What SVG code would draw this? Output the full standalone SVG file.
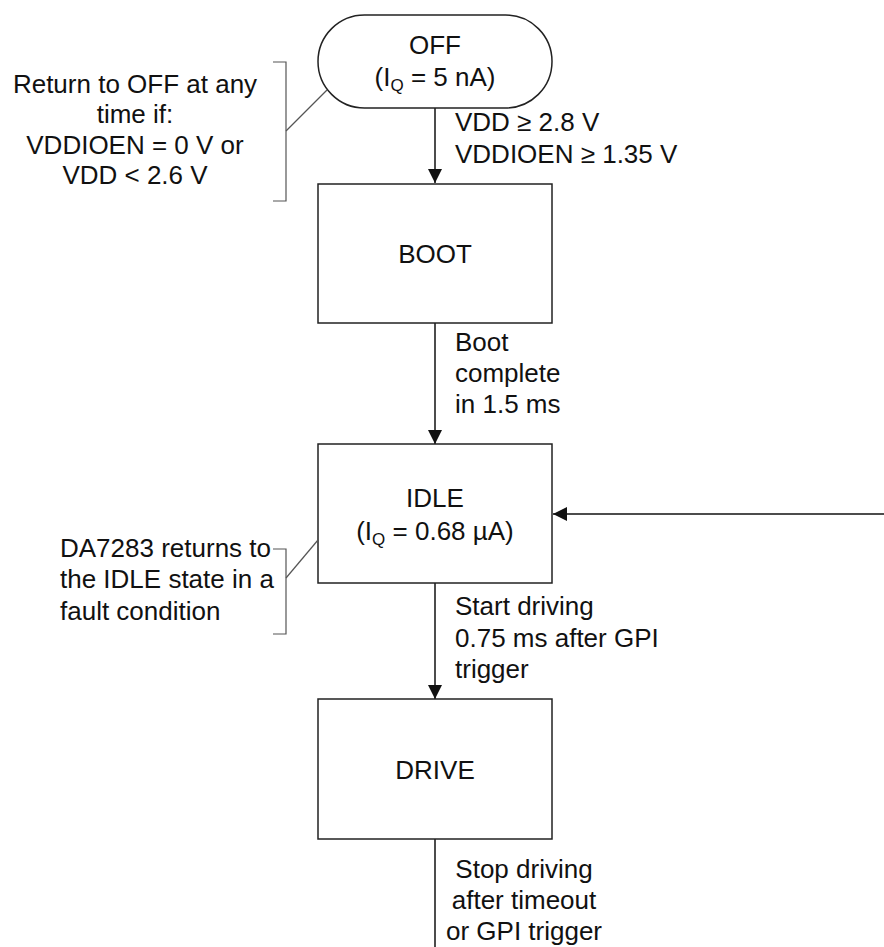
<svg xmlns="http://www.w3.org/2000/svg" width="884" height="947" viewBox="0 0 884 947">
<style>
  text { font-family: "Liberation Sans", Arial, sans-serif; font-size: 26px; fill: #111; }
  .c { text-anchor: middle; }
  .node { fill: #fff; stroke: #222; stroke-width: 1.5; }
  .edge { fill: none; stroke: #111; stroke-width: 1.5; }
  .note { fill: none; stroke: #555; stroke-width: 1.2; }
  .sub { font-size: 17px; }
</style>
<defs>
  <marker id="arrow" viewBox="0 0 14 14" refX="14" refY="7" markerWidth="14" markerHeight="14" markerUnits="userSpaceOnUse" orient="auto">
    <path d="M0,0 L14,7 L0,14 Z" fill="#111"/>
  </marker>
</defs>

<g id="connectors">
  <line class="edge" x1="435" y1="108" x2="435" y2="183" marker-end="url(#arrow)"/>
  <line class="edge" x1="435" y1="323" x2="435" y2="444" marker-end="url(#arrow)"/>
  <line class="edge" x1="435" y1="583" x2="435" y2="699" marker-end="url(#arrow)"/>
  <line class="edge" x1="435" y1="839" x2="435" y2="947"/>
  <line class="edge" x1="884" y1="514" x2="553" y2="514" marker-end="url(#arrow)"/>
</g>

<g id="edge-labels">
  <text x="455" y="131">VDD ≥ 2.8 V</text>
  <text x="455" y="163">VDDIOEN ≥ 1.35 V</text>
  <text x="455" y="351">Boot</text>
  <text x="455" y="382">complete</text>
  <text x="455" y="413">in 1.5 ms</text>
  <text x="455" y="615">Start driving</text>
  <text x="455" y="647">0.75 ms after GPI</text>
  <text x="455" y="678">trigger</text>
  <text class="c" x="524" y="878">Stop driving</text>
  <text class="c" x="524" y="909">after timeout</text>
  <text class="c" x="524" y="940">or GPI trigger</text>
</g>

<g id="node-off">
  <rect class="node" x="318" y="15" width="234" height="93" rx="46.5" ry="46.5"/>
  <text class="c" x="435" y="54">OFF</text>
  <text class="c" x="435" y="86">(I<tspan class="sub" dy="5">Q</tspan><tspan dy="-5"> = 5 nA)</tspan></text>
</g>

<g id="node-boot">
  <rect class="node" x="318" y="184" width="234" height="139"/>
  <text class="c" x="435" y="263">BOOT</text>
</g>

<g id="node-idle">
  <rect class="node" x="318" y="444" width="234" height="139"/>
  <text class="c" x="435" y="507">IDLE</text>
  <text class="c" x="435" y="540">(I<tspan class="sub" dy="5">Q</tspan><tspan dy="-5"> = 0.68 µA)</tspan></text>
</g>

<g id="node-drive">
  <rect class="node" x="318" y="699" width="234" height="140"/>
  <text class="c" x="435" y="779">DRIVE</text>
</g>

<g id="note-off">
  <path class="note" d="M273,62 H286 V201 H273"/>
  <line class="note" x1="286" y1="131" x2="327" y2="90"/>
  <text class="c" x="135" y="93">Return to OFF at any</text>
  <text class="c" x="135" y="123">time if:</text>
  <text class="c" x="135" y="154">VDDIOEN = 0 V or</text>
  <text class="c" x="135" y="184">VDD &lt; 2.6 V</text>
</g>

<g id="note-idle">
  <path class="note" d="M273,549 H286 V634 H273"/>
  <line class="note" x1="286" y1="578" x2="318" y2="540"/>
  <text x="60" y="557">DA7283 returns to</text>
  <text x="60" y="588">the IDLE state in a</text>
  <text x="60" y="620">fault condition</text>
</g>
</svg>
